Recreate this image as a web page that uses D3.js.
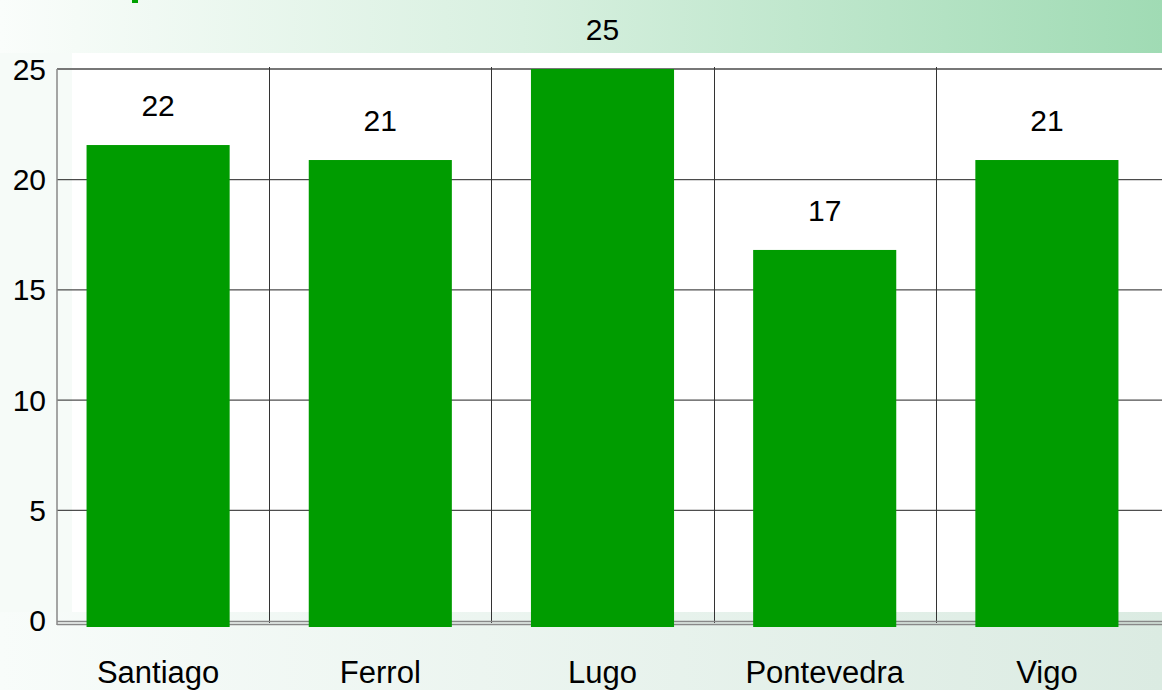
<!DOCTYPE html>
<html>
<head>
<meta charset="utf-8">
<script src="https://cdn.jsdelivr.net/npm/d3@7"></script>
<style>
	body { margin: 0; background: #ffffff; }
	#wrapper { width: 1162px; height: 690px; overflow: hidden; }
	text { font-family: "Liberation Sans", Arial, sans-serif; }
</style>
</head>
<body>
<div id="wrapper"></div>
<script>
// data
const cities = ["Santiago", "Ferrol", "Lugo", "Pontevedra", "Vigo"];
const values = [21.55, 20.87, 25, 16.79, 20.87];
const valueLabels = ["22", "21", "25", "17", "21"];
const yTicks = [0, 5, 10, 15, 20, 25];

function drawData() {
	const width = 1162;
	const height = 690;

	const canvas = d3.select("#wrapper")
		.append("svg")
		.attr("width", width)
		.attr("height", height);

	// background gradients
	const defs = canvas.append("defs");
	const topGrad = defs.append("linearGradient").attr("id", "topGrad");
	topGrad.append("stop").attr("offset", "0%").attr("stop-color", "#fafdfb");
	topGrad.append("stop").attr("offset", "45%").attr("stop-color", "#d8f0e0");
	topGrad.append("stop").attr("offset", "100%").attr("stop-color", "#a0dbb4");
	const botGrad = defs.append("linearGradient").attr("id", "botGrad");
	botGrad.append("stop").attr("offset", "0%").attr("stop-color", "#f8fcfa");
	botGrad.append("stop").attr("offset", "100%").attr("stop-color", "#dbebe2");

	canvas.append("rect").attr("x", 0).attr("y", 0).attr("width", width).attr("height", height)
		.attr("fill", "#f6fbf8");
	canvas.append("rect").attr("x", 0).attr("y", 0).attr("width", width).attr("height", 53)
		.attr("fill", "url(#topGrad)");
	canvas.append("rect").attr("x", 0).attr("y", 612).attr("width", width).attr("height", height - 612)
		.attr("fill", "url(#botGrad)");
	canvas.append("rect").attr("x", 72).attr("y", 53).attr("width", width - 72).attr("height", 559)
		.attr("fill", "#ffffff");

	// bit of the (cut off) green title at the very top
	canvas.append("rect").attr("x", 132).attr("y", 0).attr("width", 6).attr("height", 3)
		.attr("fill", "#00a000");

	// scales
	const xScale = d3.scaleBand()
		.domain(cities)
		.range([47, 1158])
		.paddingInner(0.356)
		.paddingOuter(0.178);

	const yScale = d3.scaleLinear()
		.domain([0, 25])
		.range([620, 69]);

	const plotLeft = 57;
	const plotRight = width;

	// horizontal grid lines
	canvas.selectAll(".hgrid")
		.data(yTicks.filter(function(d){ return d > 0 && d < 25; }))
		.enter().append("line")
		.attr("x1", plotLeft).attr("x2", plotRight)
		.attr("y1", function(d){ return yScale(d) + 0.5; })
		.attr("y2", function(d){ return yScale(d) + 0.5; })
		.attr("stroke", "#222").attr("stroke-width", 1);

	// top line (gray)
	canvas.append("line")
		.attr("x1", plotLeft).attr("x2", plotRight)
		.attr("y1", yScale(25)).attr("y2", yScale(25))
		.attr("stroke", "#777").attr("stroke-width", 2);

	// vertical grid lines between categories
	const step = xScale.step();
	canvas.selectAll(".vgrid")
		.data(cities.slice(1))
		.enter().append("line")
		.attr("x1", function(d){ return Math.round(xScale(d) - (step - xScale.bandwidth()) / 2) + 0.5; })
		.attr("x2", function(d){ return Math.round(xScale(d) - (step - xScale.bandwidth()) / 2) + 0.5; })
		.attr("y1", yScale(25) - 2).attr("y2", yScale(0) + 3)
		.attr("stroke", "#333").attr("stroke-width", 1);

	// left axis line
	canvas.append("line")
		.attr("x1", plotLeft).attr("x2", plotLeft)
		.attr("y1", yScale(25)).attr("y2", yScale(0) + 5)
		.attr("stroke", "#888").attr("stroke-width", 1.5);

	// double baseline
	[yScale(0) + 1.5, yScale(0) + 4.5].forEach(function(y){
		canvas.append("line")
			.attr("x1", plotLeft).attr("x2", plotRight)
			.attr("y1", y).attr("y2", y)
			.attr("stroke", "#888").attr("stroke-width", 1.5);
	});

	// bars
	canvas.selectAll(".bar")
		.data(values)
		.enter().append("rect")
		.attr("x", function(d, i){ return xScale(cities[i]); })
		.attr("y", function(d){ return yScale(d); })
		.attr("width", xScale.bandwidth())
		.attr("height", function(d){ return yScale(0) + 7 - yScale(d); })
		.attr("fill", "#009c00");

	// value labels
	canvas.selectAll(".vlabel")
		.data(values)
		.enter().append("text")
		.attr("x", function(d, i){ return xScale(cities[i]) + xScale.bandwidth() / 2; })
		.attr("y", function(d){ return yScale(d) - 29; })
		.attr("text-anchor", "middle")
		.attr("font-size", 30)
		.attr("fill", "#000")
		.text(function(d, i){ return valueLabels[i]; });

	// y tick labels
	canvas.selectAll(".ytick")
		.data(yTicks)
		.enter().append("text")
		.attr("x", 46)
		.attr("y", function(d){ return yScale(d) + 11; })
		.attr("text-anchor", "end")
		.attr("font-size", 30)
		.attr("fill", "#000")
		.text(function(d){ return d; });

	// category labels
	canvas.selectAll(".xlabel")
		.data(cities)
		.enter().append("text")
		.attr("x", function(d){ return xScale(d) + xScale.bandwidth() / 2; })
		.attr("y", 683)
		.attr("text-anchor", "middle")
		.attr("font-size", 31)
		.attr("fill", "#000")
		.text(function(d){ return d; });
}
drawData();
</script>
</body>
</html>
